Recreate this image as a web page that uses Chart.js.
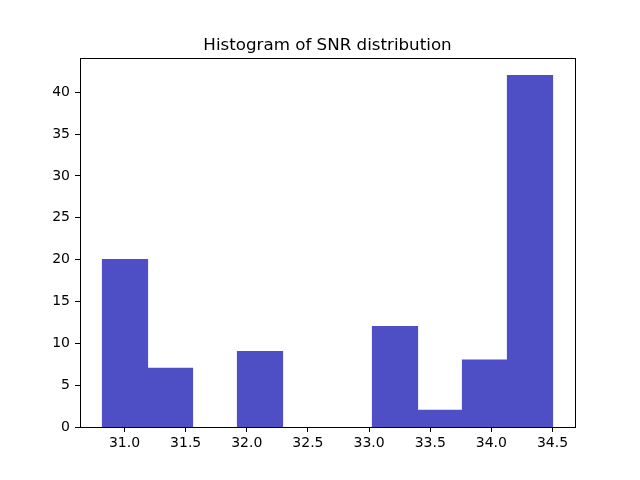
<!DOCTYPE html>
<html>
<head>
<meta charset="utf-8">
<script src="https://cdn.jsdelivr.net/npm/chart.js@4"></script>
<style>
  body { margin: 0; background: #fff; }
  #wrap { width: 640px; height: 480px; }
</style>
</head>
<body>
<div id="wrap"><canvas id="snr"></canvas></div>
<script>
// histogram bins
var binEdges = [30.82, 31.188, 31.556, 31.924, 32.292, 32.66, 33.028, 33.396, 33.764, 34.132, 34.5];
var counts = [20, 7, 0, 9, 0, 0, 12, 2, 8, 42];
var xTicks = [31.0, 31.5, 32.0, 32.5, 33.0, 33.5, 34.0, 34.5];
var yTicks = [0, 5, 10, 15, 20, 25, 30, 35, 40];
var titleText = "Histogram of SNR distribution";

var barData = [];
for (let i = 0; i < counts.length; i++) {
    barData.push({ x: (binEdges[i] + binEdges[i + 1]) / 2, y: counts[i] });
}

// matplotlib style box round the axes, title centred over the axes
var boxPlugin = {
    id: "box",
    afterDraw: function (chart) {
        var a = chart.chartArea;
        var ctx = chart.ctx;
        ctx.save();
        ctx.strokeStyle = "#000";
        ctx.lineWidth = 1;
        ctx.strokeRect(Math.round(a.left) + 0.5, Math.round(a.top) + 0.5, Math.round(a.right - a.left), Math.round(a.bottom - a.top));
        ctx.fillStyle = "#000";
        ctx.font = "16.7px 'DejaVu Sans'";
        ctx.textAlign = "center";
        ctx.textBaseline = "alphabetic";
        ctx.fillText(titleText, (a.left + a.right) / 2, a.top - 8);
        ctx.restore();
    }
};

var tickFont = { family: "DejaVu Sans", size: 14 };

new Chart("snr", {
    type: "bar",
    data: {
        datasets: [{
            data: barData,
            backgroundColor: "rgb(79, 79, 197)",
            borderWidth: 0,
            inflateAmount: function (c) { return c.raw && c.raw.y > 0 ? 0.6 : 0; },
            barPercentage: 1,
            categoryPercentage: 1
        }]
    },
    options: {
        responsive: true,
        maintainAspectRatio: false,
        animation: false,
        layout: { padding: { left: 0, right: 65, top: 58, bottom: 0 } },
        plugins: {
            legend: { display: false },
            tooltip: { enabled: false },
            title: { display: false }
        },
        scales: {
            x: {
                type: "linear",
                offset: false,
                min: 30.636,
                max: 34.684,
                afterBuildTicks: function (scale) {
                    scale.ticks = xTicks.map(v => ({ value: v }));
                },
                afterFit: function (scale) { scale.height = 53; },
                grid: { offset: false, drawOnChartArea: false, drawTicks: true, tickLength: 5, color: "#000" },
                border: { display: true, color: "#000" },
                ticks: {
                    color: "#000",
                    font: tickFont,
                    padding: 3,
                    maxRotation: 0,
                    autoSkip: false,
                    callback: function (v) { return v.toFixed(1); }
                }
            },
            y: {
                min: 0,
                max: 44.1,
                afterBuildTicks: function (scale) {
                    scale.ticks = yTicks.map(v => ({ value: v }));
                },
                afterFit: function (scale) { scale.width = 80; },
                grid: { offset: false, drawOnChartArea: false, drawTicks: true, tickLength: 5, color: "#000" },
                border: { display: true, color: "#000" },
                ticks: {
                    color: "#000",
                    font: tickFont,
                    padding: 5,
                    autoSkip: false
                }
            }
        }
    },
    plugins: [boxPlugin]
});
</script>
</body>
</html>
